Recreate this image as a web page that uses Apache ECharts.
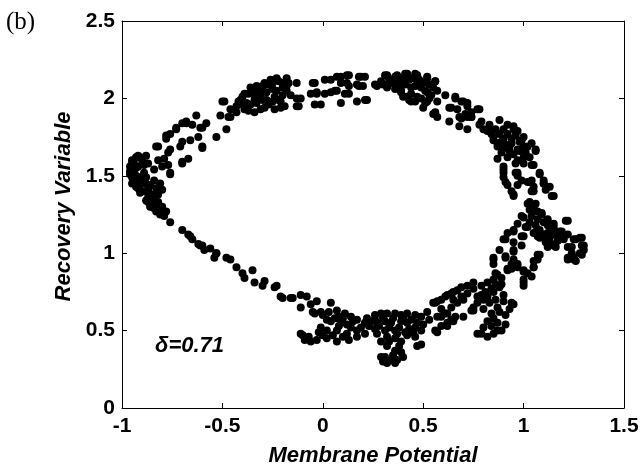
<!DOCTYPE html>
<html>
<head>
<meta charset="utf-8">
<script src="https://cdn.jsdelivr.net/npm/echarts@6/dist/echarts.min.js"></script>
<style>html,body{margin:0;padding:0;background:#fff;}#c{width:644px;height:465px;}</style>
</head>
<body>
<div id="c"></div>
<script>
const xTicks = [-1, -0.5, 0, 0.5, 1, 1.5];
const yTicks = [0, 0.5, 1, 1.5, 2, 2.5];
const panelLabel = '(b)';
const deltaLabel = '\u03b4=0.71';
const xTitle = 'Membrane Potential';
const yTitle = 'Recovery Variable';

const leftCluster = [
[-0.93,1.62],[-0.92,1.63],[-0.88,1.63],[-0.87,1.58],[-0.95,1.58],[-0.96,1.53],[-0.94,1.47],[-0.93,1.43],
[-0.91,1.39],[-0.88,1.34],[-0.86,1.30],[-0.83,1.27],[-0.81,1.25],[-0.76,1.20],[-0.89,1.52],[-0.88,1.45],
[-0.84,1.47],[-0.81,1.45],[-0.80,1.41],[-0.82,1.38],[-0.84,1.34],[-0.83,1.31],[-0.81,1.28],[-0.79,1.24],
[-0.91,1.49],[-0.93,1.55],[-0.84,1.54],[-0.92,1.47],[-0.87,1.41],[-0.86,1.37],[-0.91,1.44],[-0.96,1.56],
[-0.95,1.49],[-0.80,1.56],[-0.76,1.52],[-0.82,1.60],[-0.77,1.57],[-0.70,1.58],[-0.77,1.65],[-0.76,1.67],
[-0.71,1.69],[-0.82,1.69],[-0.60,1.69],[-0.95,1.60],[-0.94,1.52],[-0.93,1.50],[-0.92,1.56],[-0.90,1.60],
[-0.90,1.46],[-0.89,1.40],[-0.87,1.36],[-0.85,1.32],[-0.84,1.29],[-0.86,1.44],[-0.82,1.33],[-0.96,1.51],
[-0.95,1.45],[-0.91,1.62],[-0.89,1.57],[-0.88,1.49],[-0.83,1.42],[-0.85,1.38],[-0.80,1.30],[-0.78,1.27],
[-0.84,1.36],[-0.87,1.33],[-0.92,1.42],[-0.94,1.58],[-0.76,1.51],[-0.83,1.69]
];
const lowerLeftArm = [
[-0.70,1.15],[-0.67,1.12],[-0.65,1.09],[-0.62,1.06],[-0.60,1.05],[-0.56,1.03],[-0.53,1.00],[-0.54,0.97],
[-0.48,0.97],[-0.66,1.11],[-0.61,1.05],[-0.59,1.02],[-0.53,1.00],[-0.46,0.96],[-0.43,0.91],[-0.40,0.87],
[-0.39,0.84],[-0.35,0.89],[-0.34,0.81],[-0.29,0.82],[-0.24,0.78],[-0.20,0.71],[-0.15,0.71]
];
const bottomLeftCluster = [
[-0.30,0.79],[-0.23,0.79],[-0.21,0.72],[-0.16,0.71],[-0.11,0.73],[-0.08,0.72],[-0.11,0.65],[-0.06,0.67],
[-0.03,0.69],[-0.04,0.61],[-0.01,0.62],[0.04,0.68],[0.07,0.63],[0.11,0.61],[0.14,0.59],[0.17,0.57],
[0.21,0.55],[0.02,0.57],[0.06,0.58],[0.09,0.55],[0.12,0.54],[-0.01,0.52],[0.02,0.50],[0.07,0.50],
[0.12,0.48],[0.17,0.50],[0.17,0.46],[-0.11,0.48],[-0.09,0.44],[-0.06,0.43],[-0.03,0.44],[0.02,0.45],
[0.07,0.43],[0.21,0.48],[0.00,0.60],[0.04,0.56],[0.08,0.53],[0.10,0.58],[0.14,0.52],[0.15,0.56],
[0.19,0.52],[0.22,0.58],[0.05,0.47],[0.10,0.46],[-0.07,0.46],[-0.10,0.47],[0.00,0.47],[-0.02,0.49],
[0.13,0.44],[-0.05,0.62],[0.03,0.62],[0.08,0.59]
];
const bottomMidCluster = [
[0.26,0.60],[0.29,0.61],[0.32,0.61],[0.36,0.61],[0.39,0.60],[0.42,0.61],[0.46,0.60],[0.49,0.59],
[0.52,0.62],[0.56,0.68],[0.59,0.70],[0.62,0.73],[0.65,0.75],[0.69,0.78],[0.72,0.79],[0.75,0.81],
[0.24,0.56],[0.27,0.55],[0.31,0.56],[0.34,0.55],[0.39,0.56],[0.42,0.55],[0.46,0.52],[0.49,0.50],
[0.26,0.51],[0.31,0.50],[0.36,0.50],[0.41,0.49],[0.46,0.46],[0.49,0.41],[0.27,0.48],[0.32,0.46],
[0.36,0.45],[0.39,0.43],[0.32,0.40],[0.36,0.37],[0.39,0.36],[0.31,0.33],[0.34,0.31],[0.37,0.31],
[0.40,0.33],[0.29,0.33],[0.32,0.29],[0.36,0.29],[0.30,0.30],[0.47,0.40],[0.57,0.59],[0.61,0.61],
[0.64,0.65],[0.67,0.68],[0.70,0.70],[0.59,0.53],[0.62,0.55],[0.65,0.57],[0.70,0.59],[0.74,0.63],
[0.75,0.65],[0.57,0.49],[0.62,0.53],[0.65,0.56],[0.61,0.72],[0.64,0.74],[0.67,0.76],[0.65,0.70],
[0.57,0.69],[0.55,0.68],[0.59,0.64],[0.56,0.50],[0.62,0.61],[0.59,0.59],[0.64,0.57],[0.66,0.59],
[0.30,0.58],[0.35,0.58],[0.40,0.58],[0.44,0.57],[0.28,0.53],[0.33,0.52],[0.38,0.52],[0.43,0.51],
[0.47,0.55],[0.50,0.54],[0.53,0.57],[0.29,0.43],[0.33,0.43],[0.38,0.40],[0.35,0.34],[0.42,0.47],
[0.45,0.49],[0.23,0.53],[0.37,0.48],[0.26,0.57]
];
const bottomRightCluster = [
[0.77,0.48],[0.79,0.48],[0.82,0.46],[0.85,0.48],[0.89,0.50],[0.91,0.54],[0.87,0.55],[0.84,0.53],
[0.77,0.68],[0.80,0.64],[0.84,0.61],[0.87,0.65],[0.90,0.69],[0.95,0.67],[0.75,0.63],[0.69,0.72],
[0.72,0.74],[0.75,0.77],[0.79,0.79],[0.82,0.81],[0.85,0.83],[0.87,0.86],[0.89,0.84],[0.90,0.73],
[0.79,0.73],[0.82,0.72],[0.85,0.75],[0.88,0.78],[0.94,0.68],[0.80,0.70],[0.83,0.68],[0.86,0.70],
[0.88,0.62],[0.85,0.58],[0.82,0.56],[0.80,0.52],[0.87,0.50],[0.91,0.60],[0.93,0.64],[0.84,0.77],
[0.81,0.75],[0.77,0.72],[0.89,0.80],[0.86,0.80]
];
const rightLobe = [
[0.94,1.40],[0.95,1.37],[1.05,1.40],[1.03,1.33],[1.06,1.32],[0.97,1.19],[1.00,1.23],[0.95,1.14],
[0.99,1.11],[0.91,1.09],[0.95,1.02],[0.88,1.02],[0.91,0.97],[0.85,0.97],[0.85,0.93],[0.95,0.96],
[0.97,0.91],[0.94,0.90],[0.92,0.89],[1.00,0.89],[1.02,0.87],[1.04,0.85],[1.05,0.91],[1.07,0.96],
[1.08,0.99],[1.00,0.83],[1.00,0.79],[1.12,1.04],[1.16,1.04],[1.21,1.21],[1.22,1.12],[1.26,1.09],
[1.29,1.10],[1.30,1.05],[1.29,0.99],[1.25,0.96],[1.22,0.97],[1.26,0.95],[1.24,1.04],[0.85,0.96],
[0.86,0.87],[0.91,0.98],[0.95,1.01],[0.97,0.93],[1.00,0.88],[1.00,0.81],[0.92,0.90],[0.94,0.93],
[0.99,1.05],[1.00,1.11],[1.05,0.91],[1.05,0.95],[1.07,0.99],[0.90,1.09],[0.95,1.07],[0.92,1.13],
[1.07,1.11],[1.11,1.09],[1.15,1.05],[1.22,1.04],[1.25,1.09],[1.29,1.05],[1.30,1.02],[1.28,1.00],
[1.25,0.97],[1.22,0.96],[1.24,1.00],[1.15,1.12],[1.19,1.11],[1.12,1.13],[1.03,1.28],[1.05,1.30],
[1.07,1.27],[1.04,1.24],[1.07,1.22],[1.09,1.25],[1.10,1.20],[1.12,1.18],[1.14,1.15],[1.06,1.18],
[1.08,1.15],[1.10,1.12],[1.13,1.10],[1.16,1.12],[1.18,1.14],[1.11,1.07],[1.14,1.06],[1.17,1.08],
[1.20,1.09],[1.03,1.20],[1.01,1.17],[1.05,1.13],[1.08,1.10],[1.12,1.22],[1.15,1.19],[1.02,1.32],
[1.05,1.28],[1.09,1.26],[0.99,1.24],[1.02,1.17],[1.07,1.15],[1.12,1.20],[1.15,1.17],[1.19,1.14],
[1.22,1.21],[1.28,1.10],[0.95,1.15]
];
const upperRightArm = [
[0.90,1.52],[0.91,1.46],[0.96,1.52],[0.97,1.44],[1.03,1.46],[1.08,1.51],[1.10,1.45],[1.11,1.41],
[1.15,1.37],[0.82,1.79],[0.85,1.75],[0.90,1.80],[0.95,1.82],[0.97,1.79],[1.00,1.75],[1.04,1.71],
[1.06,1.67],[0.87,1.71],[0.90,1.68],[0.94,1.71],[0.97,1.67],[1.00,1.69],[1.00,1.62],[0.87,1.61],
[0.92,1.62],[0.96,1.58],[1.04,1.57],[0.90,1.54],[0.90,1.49],[0.97,1.52],[0.99,1.47],[1.04,1.47],
[0.92,1.44],[1.05,1.43],[1.10,1.45],[0.79,1.85],[0.83,1.83],[0.88,1.86],[0.78,1.93],[0.74,1.88],
[0.69,1.87],[0.63,1.85],[0.68,1.82],[0.72,1.80],[0.80,1.80],[0.84,1.77],[0.85,1.73],[0.87,1.69],
[0.89,1.65],[0.90,1.56],[0.95,1.38],[0.97,1.50],[1.02,1.46],[1.04,1.40],[1.05,1.57],[1.08,1.52],
[1.10,1.47],[1.13,1.43],[1.14,1.37],[0.95,1.80],[0.99,1.73],[1.02,1.69],[1.06,1.66],[0.93,1.69],
[0.86,1.80],[0.88,1.77],[0.90,1.74],[0.92,1.77],[0.94,1.74],[0.96,1.76],[0.98,1.72],[0.93,1.66],
[0.95,1.64],[0.98,1.66],[1.01,1.65],[1.03,1.62],[0.91,1.70],[0.89,1.72],[0.84,1.80],[0.97,1.60],
[1.00,1.58],[0.92,1.83]
];
const topRightArc = [
[0.31,2.15],[0.27,2.08],[0.37,2.15],[0.42,2.16],[0.47,2.15],[0.52,2.13],[0.56,2.11],[0.34,2.10],
[0.39,2.04],[0.46,2.08],[0.51,2.05],[0.57,2.05],[0.44,1.98],[0.42,2.01],[0.47,2.01],[0.52,1.98],
[0.50,1.94],[0.61,2.02],[0.57,1.98],[0.56,1.91],[0.57,1.88],[0.63,1.94],[0.66,2.01],[0.70,1.98],
[0.72,1.95],[0.67,1.93],[0.71,1.90],[0.74,1.88],[0.32,2.15],[0.26,2.09],[0.36,2.14],[0.41,2.16],
[0.46,2.16],[0.52,2.14],[0.56,2.11],[0.39,2.05],[0.44,2.03],[0.46,1.98],[0.55,1.90],[0.64,1.94],
[0.66,2.00],[0.69,1.98],[0.72,1.97],[0.77,1.93],[0.68,1.88],[0.72,1.88],[0.74,1.91],[0.78,1.83],
[0.33,2.12],[0.36,2.10],[0.38,2.12],[0.40,2.13],[0.43,2.12],[0.45,2.13],[0.48,2.12],[0.50,2.10],
[0.53,2.09],[0.55,2.07],[0.38,2.08],[0.41,2.09],[0.44,2.07],[0.47,2.09],[0.49,2.07],[0.52,2.04],
[0.54,2.02],[0.36,2.06],[0.32,2.07],[0.30,2.09],[0.29,2.11],[0.40,2.01],[0.43,1.99],[0.49,2.00],
[0.53,2.00],[0.51,1.97]
];
const topMidArc = [
[-0.04,2.10],[-0.06,2.03],[-0.03,2.03],[0.01,2.03],[0.04,2.12],[0.09,2.14],[0.13,2.15],[0.18,2.14],
[0.09,2.10],[0.12,2.10],[0.17,2.09],[0.04,2.04],[0.07,2.05],[0.13,2.03],[-0.04,1.96],[-0.01,1.96],
[0.09,1.97],[0.17,1.98],[0.21,1.99],[-0.13,2.00],[-0.13,1.95],[0.07,2.14],[0.12,2.15],[0.19,2.14],
[0.06,2.05],[0.13,2.08],[0.18,2.08],[0.11,2.03],[0.21,2.14],[0.20,2.08],[0.22,1.99],[0.01,2.12],
[-0.05,2.10],[-0.03,2.04]
];
const topLeftArc = [
[-0.78,1.74],[-0.76,1.77],[-0.73,1.80],[-0.70,1.84],[-0.68,1.85],[-0.65,1.83],[-0.63,1.89],[-0.58,1.84],
[-0.61,1.81],[-0.62,1.75],[-0.66,1.73],[-0.70,1.72],[-0.79,1.61],[-0.67,1.61],[-0.70,1.59],[-0.60,1.68],
[-0.53,1.75],[-0.48,1.80],[-0.51,1.89],[-0.49,1.98],[-0.46,1.93],[-0.43,1.95],[-0.41,1.99],[-0.39,2.03],
[-0.36,2.07],[-0.33,2.08],[-0.29,2.10],[-0.26,2.12],[-0.23,2.13],[-0.18,2.13],[-0.17,2.10],[-0.13,2.10],
[-0.11,2.00],[-0.12,1.95],[-0.19,1.95],[-0.24,1.93],[-0.31,1.93],[-0.34,1.91],[-0.39,1.93],[-0.43,1.91],
[-0.46,1.88],[-0.28,1.99],[-0.24,2.01],[-0.21,1.98],[-0.34,1.99],[-0.38,1.97],[-0.31,2.04],[-0.23,2.05],
[-0.18,2.05],[-0.16,2.02],[-0.50,1.98],[-0.47,1.88],[-0.60,1.81],[-0.68,1.84],[-0.73,1.81],[-0.78,1.76],
[-0.40,2.01],[-0.37,2.03],[-0.35,2.05],[-0.32,2.06],[-0.30,2.08],[-0.27,2.09],[-0.25,2.10],[-0.22,2.11],
[-0.20,2.10],[-0.36,1.96],[-0.33,1.97],[-0.30,1.99],[-0.27,1.96],[-0.25,1.98],[-0.22,1.99],[-0.20,2.02],
[-0.28,2.04],[-0.25,2.06],[-0.31,2.01],[-0.40,1.96],[-0.37,1.92],[-0.20,2.07],[-0.18,2.08],[-0.42,1.98],
[-0.29,1.94],[-0.21,1.94],[-0.34,2.02]
];

const segments = [leftCluster, lowerLeftArm, bottomLeftCluster, bottomMidCluster, bottomRightCluster,
  rightLobe, upperRightArm, topRightArc, topMidArc, topLeftArc];

const chart = echarts.init(document.getElementById('c'), null, {renderer: 'canvas'});
const labelFont = {fontFamily: 'Liberation Sans, Arial, sans-serif', fontWeight: 'bold', fontSize: 21, color: '#000'};
const titleFont = {fontFamily: 'Liberation Sans, Arial, sans-serif', fontWeight: 'bold', fontStyle: 'italic', fontSize: 22, color: '#000'};
const line = {show: true, onZero: false, lineStyle: {color: '#000', width: 1}};
const tick = {show: true, inside: true, length: 5, lineStyle: {color: '#000', width: 1}};

chart.setOption({
  animation: false,
  backgroundColor: '#fff',
  grid: {left: 122, right: 20, top: 21, bottom: 57, containLabel: false, outerBoundsMode: 'none'},
  xAxis: [
    {type: 'value', position: 'bottom', min: xTicks[0], max: xTicks[xTicks.length-1], interval: 0.5,
     axisLine: line, axisTick: tick, splitLine: {show: false},
     axisLabel: Object.assign({margin: 8, formatter: v => String(v)}, labelFont),
     name: xTitle, nameLocation: 'middle', nameGap: 37, nameTextStyle: titleFont},
    {type: 'value', position: 'top', min: xTicks[0], max: xTicks[xTicks.length-1], interval: 0.5,
     axisLine: line, axisTick: tick, splitLine: {show: false}, axisLabel: {show: false}}
  ],
  yAxis: [
    {type: 'value', position: 'left', min: yTicks[0], max: yTicks[yTicks.length-1], interval: 0.5,
     axisLine: line, axisTick: tick, splitLine: {show: false},
     axisLabel: Object.assign({margin: 7, formatter: v => String(v)}, labelFont),
     name: yTitle, nameLocation: 'middle', nameGap: 45, nameRotate: 90,
     nameTextStyle: Object.assign({}, titleFont, {padding: [0, 0, 0, 16]})},
    {type: 'value', position: 'right', min: yTicks[0], max: yTicks[yTicks.length-1], interval: 0.5,
     axisLine: line, axisTick: tick, splitLine: {show: false}, axisLabel: {show: false}}
  ],
  graphic: [
    {type: 'text', left: 6, top: 10, style: {text: panelLabel, font: '25px "Liberation Serif", "Times New Roman", serif', fill: '#000'}},
    {type: 'text', left: 155, top: 335, style: {text: deltaLabel, font: 'italic bold 22px "Liberation Sans", Arial, sans-serif', fill: '#000'}}
  ],
  series: segments.map(seg => ({
    type: 'scatter', xAxisIndex: 0, yAxisIndex: 0, data: seg, symbol: 'circle', symbolSize: 8,
    itemStyle: {color: '#000', opacity: 1}, silent: true
  }))
});
</script>
</body>
</html>
